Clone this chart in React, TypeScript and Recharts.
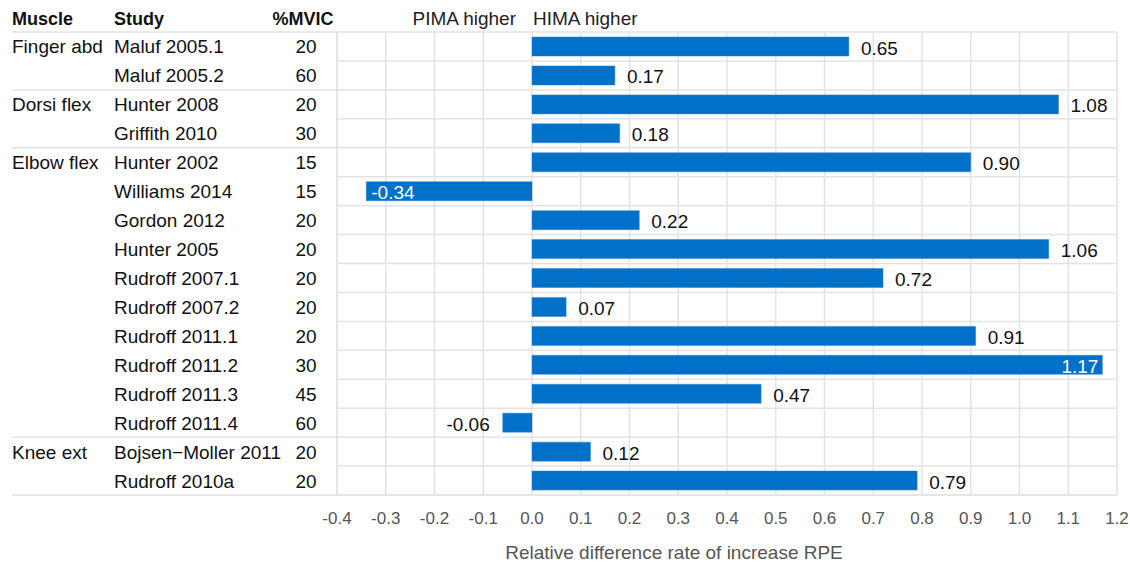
import React from "react";
import { Bar, BarChart, CartesianGrid, LabelList, XAxis, YAxis } from "recharts";

const muscles = ["Finger abd", "", "Dorsi flex", "", "Elbow flex", "", "", "", "", "", "", "", "", "", "Knee ext", ""];
const studies = [
  "Maluf 2005.1",
  "Maluf 2005.2",
  "Hunter 2008",
  "Griffith 2010",
  "Hunter 2002",
  "Williams 2014",
  "Gordon 2012",
  "Hunter 2005",
  "Rudroff 2007.1",
  "Rudroff 2007.2",
  "Rudroff 2011.1",
  "Rudroff 2011.2",
  "Rudroff 2011.3",
  "Rudroff 2011.4",
  "Bojsen\u2212Moller 2011",
  "Rudroff 2010a",
];
const mvic = [20, 60, 20, 30, 15, 15, 20, 20, 20, 20, 20, 30, 45, 60, 20, 20];
const rpeDiff = [0.65, 0.17, 1.08, 0.18, 0.9, -0.34, 0.22, 1.06, 0.72, 0.07, 0.91, 1.17, 0.47, -0.06, 0.12, 0.79];
const xTicks = [-0.4, -0.3, -0.2, -0.1, 0, 0.1, 0.2, 0.3, 0.4, 0.5, 0.6, 0.7, 0.8, 0.9, 1.0, 1.1, 1.2];

const data = studies.map((study, i) => ({ study, muscle: muscles[i], mvic: mvic[i], value: rpeDiff[i] }));

const W = 1130;
const H = 565;
const PLOT_LEFT = 337;
const PLOT_RIGHT = 1117;
const PLOT_TOP = 32;
const PLOT_BOTTOM = 495;
const ROW_H = (PLOT_BOTTOM - PLOT_TOP) / data.length;
const FONT = "'Liberation Sans', Arial, sans-serif";
const BLUE = "#0070C8";
const GRID = "#e3e3e3";

const RowTick = (props: any) => {
  const { y, index } = props;
  const row = data[index];
  if (!row) return null;
  const top = y - ROW_H / 2;
  return (
    <g fontFamily={FONT} fontSize={19} fill="#111">
      {row.muscle && <line x1={12} x2={PLOT_LEFT} y1={top} y2={top} stroke="#d4d4d4" />}
      {index === data.length - 1 && <line x1={12} x2={PLOT_LEFT} y1={top + ROW_H} y2={top + ROW_H} stroke="#d4d4d4" />}
      <text x={12} y={y} dy={7}>{row.muscle}</text>
      <text x={114} y={y} dy={7}>{row.study}</text>
      <text x={306} y={y} dy={7} textAnchor="middle">{row.mvic}</text>
    </g>
  );
};

const XTick = (props: any) => {
  const { x, payload } = props;
  return (
    <text x={x} y={PLOT_BOTTOM + 29} textAnchor="middle" fontFamily={FONT} fontSize={17} fill="#555">
      {Number(payload.value).toFixed(1)}
    </text>
  );
};

const ValueLabel = (props: any) => {
  const { x, y, width, height, value } = props;
  const left = Math.min(x, x + width);
  const right = Math.max(x, x + width);
  const cy = y + height / 2 + 8;
  const txt = Number(value).toFixed(2);
  const w = txt.length * 10;
  const common = { fontFamily: FONT, fontSize: 19, y: cy };
  if (value >= 0) {
    if (right + 12 + w > PLOT_RIGHT) {
      return <text {...common} x={right - 4} textAnchor="end" fill="#fff">{txt}</text>;
    }
    return <text {...common} x={right + 12} textAnchor="start" fill="#111">{txt}</text>;
  }
  if (left - 12 - w < PLOT_LEFT) {
    return <text {...common} x={left + 5} textAnchor="start" fill="#fff">{txt}</text>;
  }
  return <text {...common} x={left - 13} textAnchor="end" fill="#111">{txt}</text>;
};

export default function App() {
  return (
    <div style={{ position: "absolute", left: 0, top: 0, background: "#fff" }}>
      <BarChart
        width={W}
        height={H}
        data={data}
        layout="vertical"
        margin={{ top: PLOT_TOP, right: W - PLOT_RIGHT, bottom: 0, left: 0 }}
        barSize={19}
      >
        <text x={12} y={25} fontFamily={FONT} fontSize={18} fontWeight="bold" fill="#111">Muscle</text>
        <text x={114} y={25} fontFamily={FONT} fontSize={18} fontWeight="bold" fill="#111">Study</text>
        <text x={303} y={25} fontFamily={FONT} fontSize={18} fontWeight="bold" fill="#111" textAnchor="middle">%MVIC</text>
        <text x={516} y={25} fontFamily={FONT} fontSize={19} fill="#222" textAnchor="end">PIMA higher</text>
        <text x={533} y={25} fontFamily={FONT} fontSize={19} fill="#222">HIMA higher</text>
        <CartesianGrid
          stroke={GRID}
          strokeWidth={1.5}
          horizontalCoordinatesGenerator={({ offset }: any) =>
            Array.from({ length: data.length + 1 }, (_, i) => offset.top + (i * offset.height) / data.length)
          }
        />
        <XAxis
          type="number"
          domain={[-0.4, 1.2]}
          ticks={xTicks}
          interval={0}
          axisLine={{ stroke: GRID, strokeWidth: 1.5 }}
          tickLine={false}
          height={H - PLOT_BOTTOM}
          tick={<XTick />}
          label={() => (
            <text x={674} y={559} textAnchor="middle" fontFamily={FONT} fontSize={19} fill="#555">
              Relative difference rate of increase RPE
            </text>
          )}
        />
        <YAxis
          type="category"
          dataKey="study"
          width={PLOT_LEFT}
          axisLine={{ stroke: GRID, strokeWidth: 1.5 }}
          tickLine={false}
          interval={0}
          tick={<RowTick />}
        />
        <Bar dataKey="value" fill={BLUE} stroke="#2a86d4" strokeWidth={0.5} isAnimationActive={false}>
          <LabelList dataKey="value" content={<ValueLabel />} />
        </Bar>
      </BarChart>
    </div>
  );
}
